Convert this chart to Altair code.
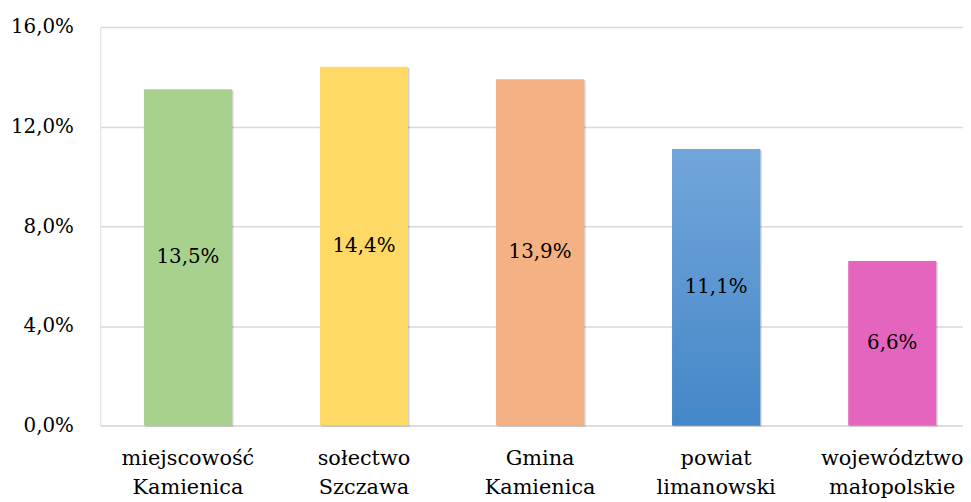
import altair as alt
import pandas as pd

categories = ["miejscowość Kamienica", "sołectwo Szczawa", "Gmina Kamienica",
              "powiat limanowski", "województwo małopolskie"]
values = [13.5, 14.4, 13.9, 11.1, 6.6]
labels = ["13,5%", "14,4%", "13,9%", "11,1%", "6,6%"]
y_ticks = [0, 4, 8, 12, 16]

palette = ["#A9D18E", "#FFD966", "#F4B183", "#5B95D2", "#E565BE"]

df = pd.DataFrame({"cat": categories, "val": values, "lab": labels})

FONT = "DejaVu Serif"

x_enc = alt.X("cat:N", sort=categories, title=None,
              scale=alt.Scale(paddingInner=0.5, paddingOuter=0.2, align=0.62),
              axis=alt.Axis(labelExpr="split(datum.label, ' ')", labelAngle=0,
                            labelFont=FONT, labelFontSize=21, labelColor="#000000",
                            labelLineHeight=30, labelPadding=22, ticks=False,
                            domain=False, grid=False, labelLimit=300))
y_enc = alt.Y("val:Q", title=None,
              scale=alt.Scale(domain=[0, 16], nice=False),
              axis=alt.Axis(values=y_ticks, labelFont=FONT, labelFontSize=20,
                            labelColor="#000000", labelPadding=27, ticks=False,
                            domain=False, gridColor="#D9D9D9", gridWidth=1.5,
                            labelExpr="replace(format(datum.value, '.1f'), '.', ',') + '%'"))

base = alt.Chart(df)

shadow = base.mark_bar(color="#000000", opacity=0.18, xOffset=1.5, yOffset=1).encode(
    x=x_enc, y=y_enc)

bars = base.mark_bar().encode(
    x=x_enc, y=y_enc,
    color=alt.Color("cat:N", sort=categories, legend=None,
                    scale=alt.Scale(domain=categories, range=palette)))

grad = alt.Gradient(gradient="linear", x1=0, x2=0, y1=1, y2=0,
                    stops=[alt.GradientStop(color="#4487C8", offset=0),
                           alt.GradientStop(color="#72A6DA", offset=1)])
blue = base.transform_filter(alt.datum.cat == "powiat limanowski").mark_bar(color=grad).encode(
    x=x_enc, y=y_enc)

text = base.transform_calculate(mid="datum.val / 2").mark_text(
    font=FONT, fontSize=20, color="#000000", baseline="middle").encode(
    x=x_enc, y=alt.Y("mid:Q", scale=alt.Scale(domain=[0, 16], nice=False)),
    text="lab:N")

chart = alt.layer(shadow, bars, blue, text).properties(
    width=870, height=402,
    autosize=alt.AutoSizeParams(type="none"),
    padding={"left": 93, "top": 17, "right": 0, "bottom": 75},
).configure_view(stroke=None).configure(background="#FFFFFF")

chart.save("out.html", embed_options={"renderer": "svg", "actions": False})
